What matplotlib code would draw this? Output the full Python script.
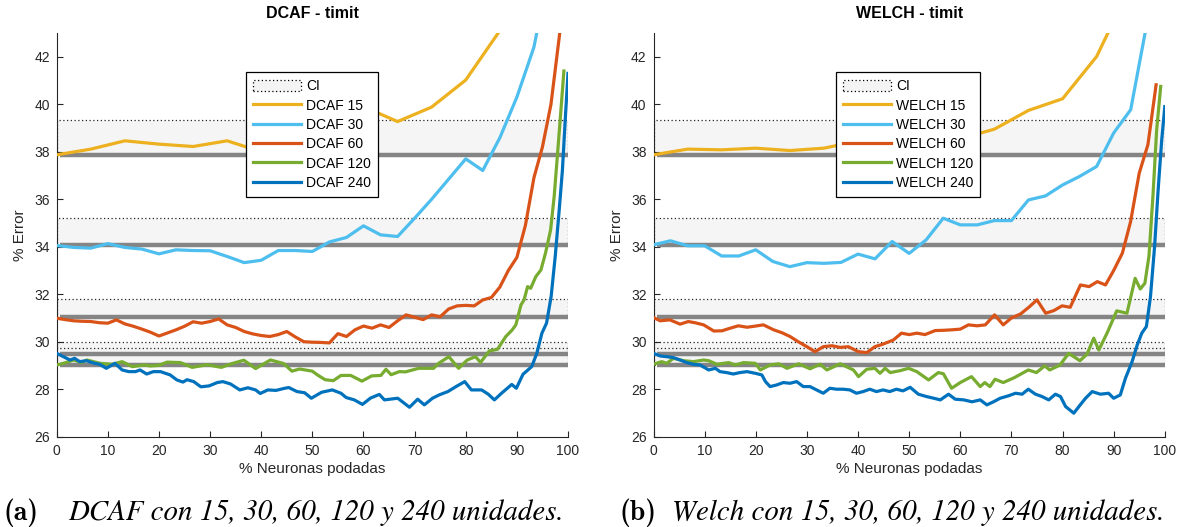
import matplotlib
matplotlib.use('Agg')
import matplotlib.pyplot as plt
from matplotlib.patches import Rectangle, Patch

# ---------------- data ----------------
ref_levels = [37.88, 34.06, 31.02, 29.48, 29.03]
ci_upper = [39.34, 35.22, 31.78, 29.98, 29.75]

x15 = [0, 6.67, 13.33, 20, 26.67, 33.33, 40, 46.67, 53.33, 60, 66.67, 73.33, 80, 86.67, 93.33, 100]
dcaf15 = [37.87, 38.11, 38.46, 38.32, 38.22, 38.46, 38.0, 38.6, 39.3, 39.9, 39.27, 39.88, 41.02, 43.1, 48.0, 60.0]
welch15 = [37.87, 38.11, 38.08, 38.15, 38.05, 38.15, 38.45, 38.6, 38.5, 38.55, 38.95, 39.74, 40.23, 42.01, 45.0, 55.0]

x30 = [0, 3.33, 6.67, 10, 13.33, 16.67, 20, 23.33, 26.67, 30, 33.33, 36.67, 40, 43.33, 46.67,
       50, 53.33, 56.67, 60, 63.33, 66.67, 70, 73.33, 76.67, 80, 83.33, 86.67, 90, 93.33, 96.67, 100]
dcaf30 = [34.05, 33.97, 33.94, 34.13, 33.97, 33.9, 33.7, 33.87, 33.84, 33.83, 33.59, 33.33, 33.43, 33.84, 33.84,
          33.8, 34.2, 34.39, 34.88, 34.5, 34.43, 35.2, 36.0, 36.85, 37.7, 37.21, 38.59, 40.3, 42.4, 46.0, 50.0]
welch30 = [34.08, 34.25, 34.04, 34.04, 33.61, 33.61, 33.87, 33.38, 33.16, 33.33, 33.3, 33.34, 33.69, 33.49, 34.22,
           33.72, 34.29, 35.2, 34.92, 34.92, 35.1, 35.1, 35.97, 36.14, 36.6, 36.96, 37.38, 38.79, 39.77, 43.6, 50.0]

x60_dcaf = [0, 1.67, 3.33, 5, 6.67, 8.33, 10, 11.67, 13.33, 15, 16.67, 18.33, 20, 21.67, 23.33, 25, 26.67, 28.33,
            30, 31.67, 33.33, 35, 36.67, 38.33, 40, 41.67, 43.33, 45, 46.67, 48.33, 50, 51.67, 53.33, 55, 56.67,
            58.33, 60, 61.67, 63.33, 65, 66.67, 68.33, 70, 71.67, 73.33, 75, 76.67, 78.33, 80, 81.67, 83.33, 85,
            86.67, 88.33, 90, 91.67, 93.33, 95, 96.67, 98.33, 100]
dcaf60 = [30.99, 30.93, 30.88, 30.86, 30.85, 30.8, 30.78, 30.92, 30.75, 30.65, 30.53, 30.4, 30.24, 30.37, 30.5,
          30.65, 30.84, 30.78, 30.85, 30.96, 30.71, 30.6, 30.43, 30.33, 30.26, 30.22, 30.3, 30.43, 30.2, 30.0,
          29.98, 29.97, 29.95, 30.34, 30.22, 30.5, 30.66, 30.57, 30.71, 30.6, 30.88, 31.13, 31.03, 30.93, 31.13,
          31.05, 31.38, 31.51, 31.53, 31.51, 31.76, 31.86, 32.3, 33.0, 33.55, 34.9, 36.9, 38.2, 40.0, 42.9, 47.0]

x60_welch = [0, 1.3, 3.2, 5.2, 6.8, 8.1, 9.8, 11.8, 13.4, 15.0, 16.6, 18.3, 20.0, 21.5, 23.5, 25.1, 26.7, 28.3,
             30.0, 31.6, 33.2, 34.9, 36.5, 38.1, 40.1, 41.7, 43.3, 44.9, 46.9, 48.5, 50.0, 51.5, 53.1, 55.1, 56.7,
             58.3, 60.0, 61.6, 63.3, 64.9, 66.7, 68.4, 70.0, 71.8, 73.4, 75.0, 76.7, 78.3, 79.9, 81.5, 83.5, 85.2,
             86.8, 88.4, 90.0, 91.7, 93.3, 95.0, 96.7, 98.3]
welch60 = [31.02, 30.88, 30.92, 30.74, 30.85, 30.8, 30.71, 30.45, 30.46, 30.57, 30.67, 30.61, 30.66, 30.71, 30.5,
           30.38, 30.22, 30.0, 29.79, 29.58, 29.79, 29.83, 29.76, 29.79, 29.58, 29.54, 29.79, 29.9, 30.07, 30.36,
           30.3, 30.36, 30.3, 30.47, 30.48, 30.5, 30.53, 30.71, 30.67, 30.71, 31.13, 30.71, 31.0, 31.17, 31.45,
           31.76, 31.2, 31.31, 31.51, 31.45, 32.39, 32.32, 32.53, 32.39, 33.0, 33.73, 35.05, 37.1, 38.3, 40.82]

x120_dcaf = [0, 1.5, 3.3, 4.9, 5.9, 8.5, 10.8, 12.8, 14.8, 17.1, 18.3, 19.9, 21.6, 24.2, 26.5, 29.4, 32.2, 34.3,
             36.6, 38.9, 41.8, 44.4, 46.0, 47.5, 50.0, 51.0, 52.5, 54.1, 55.6, 57.5, 59.7, 61.6, 63.4, 64.4, 65.4,
             67.0, 68.2, 70.8, 73.7, 74.7, 76.7, 78.6, 80.3, 81.9, 82.9, 84.6, 86.2, 87.8, 89.1, 89.8, 90.8, 91.4,
             92.1, 92.7, 93.7, 94.7, 95.6, 96.6, 97.3, 98.2, 99.2]
dcaf120 = [29.02, 29.1, 29.23, 29.13, 29.23, 29.09, 29.05, 29.16, 28.95, 29.02, 28.98, 29.0, 29.14, 29.12, 28.92,
           29.03, 28.92, 29.08, 29.22, 28.87, 29.23, 29.08, 28.76, 28.85, 28.76, 28.6, 28.4, 28.36, 28.58, 28.58,
           28.34, 28.56, 28.58, 28.84, 28.61, 28.74, 28.73, 28.88, 28.88, 29.09, 29.37, 28.88, 29.23, 29.37, 29.13,
           29.61, 29.68, 30.21, 30.5, 30.71, 31.55, 31.76, 32.32, 32.25, 32.74, 33.02, 33.73, 34.71, 36.13, 38.59,
           41.4]

x120_welch = [0, 1.6, 2.6, 3.9, 5.9, 7.8, 9.8, 10.8, 12.4, 14.7, 16.0, 17.6, 19.9, 20.9, 22.8, 24.5, 26.1, 28.4,
              30.6, 32.6, 33.9, 36.5, 39.1, 40.1, 41.7, 43.3, 44.3, 45.3, 46.3, 48.2, 49.9, 51.5, 53.8, 55.7, 56.7,
              58.3, 60.0, 62.2, 63.9, 64.8, 65.8, 66.8, 68.4, 70.6, 73.3, 74.9, 76.5, 77.5, 79.5, 81.2, 83.4, 84.8,
              86.1, 87.1, 88.7, 90.6, 92.6, 94.2, 95.2, 96.1, 96.9, 97.7, 98.4, 99.2]
welch120 = [29.05, 29.16, 29.09, 29.3, 29.2, 29.16, 29.23, 29.2, 29.05, 29.12, 29.02, 29.12, 29.09, 28.81, 29.02,
            29.07, 28.88, 29.07, 28.86, 29.05, 28.81, 29.07, 28.81, 28.53, 28.84, 28.88, 28.67, 28.88, 28.7, 28.78,
            28.88, 28.74, 28.39, 28.7, 28.65, 28.04, 28.28, 28.53, 28.11, 28.28, 28.11, 28.42, 28.28, 28.49, 28.81,
            28.7, 28.98, 28.81, 29.02, 29.51, 29.2, 29.48, 30.15, 29.65, 30.36, 31.3, 31.2, 32.67, 32.22, 32.46,
            33.6, 36.2, 38.9, 40.75]

x240_dcaf = [0, 1.3, 2.6, 3.5, 4.5, 5.8, 7.4, 8.4, 9.7, 11.4, 12.8, 14.1, 15.4, 16.3, 17.6, 18.9, 20.3, 22.2, 23.5,
             24.7, 25.5, 26.8, 28.2, 29.8, 31.4, 32.5, 34.0, 35.8, 37.4, 38.9, 39.8, 41.3, 42.9, 44.6, 45.4, 47.0,
             48.5, 49.8, 51.8, 53.9, 55.6, 56.6, 58.2, 59.8, 61.4, 63.1, 64.1, 66.7, 69.0, 70.6, 71.9, 73.5, 74.8,
             76.5, 78.1, 79.8, 81.1, 83.1, 84.4, 85.6, 87.0, 89.0, 89.9, 91.2, 92.9, 93.9, 94.9, 95.8, 96.7, 97.5,
             98.3, 98.9, 99.5, 100]
dcaf240 = [29.51, 29.37, 29.23, 29.3, 29.16, 29.2, 29.09, 29.05, 28.88, 29.09, 28.81, 28.74, 28.74, 28.81, 28.64,
           28.74, 28.74, 28.6, 28.39, 28.3, 28.4, 28.32, 28.1, 28.14, 28.28, 28.32, 28.22, 27.97, 28.06, 27.97,
           27.82, 27.97, 27.95, 28.04, 28.07, 27.9, 27.85, 27.62, 27.87, 27.97, 27.83, 27.65, 27.55, 27.36, 27.63,
           27.78, 27.55, 27.62, 27.24, 27.58, 27.34, 27.62, 27.76, 27.9, 28.11, 28.32, 27.97, 27.97, 27.79, 27.55,
           27.83, 28.2, 28.04, 28.63, 28.95, 29.51, 30.36, 30.78, 31.9, 33.59, 35.6, 37.2, 39.5, 41.3]

x240_welch = [0, 1.3, 2.6, 3.9, 5.2, 6.5, 7.8, 9.1, 10.8, 12.1, 13.0, 14.3, 15.6, 16.9, 18.3, 19.9, 21.2, 21.9,
              22.8, 24.1, 25.4, 26.7, 28.0, 29.3, 30.6, 31.9, 33.2, 34.5, 35.8, 37.1, 38.4, 39.7, 41.0, 42.3, 43.6,
              44.9, 46.2, 47.5, 48.8, 50.2, 51.8, 53.4, 54.8, 56.1, 57.7, 59.0, 60.7, 62.3, 63.9, 65.2, 66.5, 67.8,
              69.4, 70.8, 72.1, 73.3, 74.7, 76.0, 77.3, 78.6, 79.6, 80.6, 82.2, 83.2, 84.5, 85.8, 87.4, 89.0, 90.0,
              91.3, 92.3, 93.6, 94.6, 95.5, 96.4, 97.2, 98.0, 98.7, 99.4, 100]
welch240 = [29.51, 29.4, 29.37, 29.33, 29.23, 29.12, 29.05, 29.02, 28.81, 28.88, 28.74, 28.7, 28.64, 28.7, 28.74,
            28.67, 28.6, 28.32, 28.11, 28.18, 28.28, 28.25, 28.32, 28.11, 28.11, 27.97, 27.83, 28.04, 28.0, 28.0,
            27.97, 27.83, 27.9, 28.0, 27.9, 27.97, 27.9, 28.0, 27.93, 28.08, 27.79, 27.69, 27.62, 27.55, 27.79,
            27.58, 27.55, 27.47, 27.55, 27.34, 27.47, 27.62, 27.72, 27.83, 27.79, 28.0, 27.79, 27.69, 27.55, 27.79,
            27.69, 27.27, 26.99, 27.27, 27.62, 27.9, 27.79, 27.83, 27.62, 27.76, 28.46, 29.16, 29.86, 30.36, 30.64,
            31.9, 34.0, 36.4, 38.5, 39.9]

series_labels = ['15', '30', '60', '120', '240']
colors = ['#EDB120', '#4DBEEE', '#D95319', '#77AC30', '#0072BD']
xticks = list(range(0, 101, 10))
yticks = list(range(26, 43, 2))

panels = [
    dict(title='DCAF - timit', prefix='DCAF', caption_tag='(a)',
         caption='DCAF con 15, 30, 60, 120 y 240 unidades.',
         xs=[x15, x30, x60_dcaf, x120_dcaf, x240_dcaf],
         ys=[dcaf15, dcaf30, dcaf60, dcaf120, dcaf240]),
    dict(title='WELCH - timit', prefix='WELCH', caption_tag='(b)',
         caption='Welch con 15, 30, 60, 120 y 240 unidades.',
         xs=[x15, x30, x60_welch, x120_welch, x240_welch],
         ys=[welch15, welch30, welch60, welch120, welch240]),
]

# ---------------- figure ----------------
plt.rcParams['font.family'] = ['Liberation Sans', 'DejaVu Sans']
W, H = 1184, 527
fig = plt.figure(figsize=(W / 100, H / 100), dpi=100)
ax_left = [56.7, 653.5]
ax_w = 511.3
ax_top, ax_bot = 33.0, 436.7
axes = [fig.add_axes([l / W, 1 - ax_bot / H, ax_w / W, (ax_bot - ax_top) / H]) for l in ax_left]
leg_anchor_x = [0.371, 0.357]

txt_col = '#262626'
ci_face = '#f4f4f4'
for ax, p, lx in zip(axes, panels, leg_anchor_x):
    for lvl, up in zip(ref_levels, ci_upper):
        ax.add_patch(Rectangle((0, lvl), 100, up - lvl, facecolor=ci_face, edgecolor='black',
                               linestyle=(0, (1, 2)), linewidth=0.9, alpha=0.85, zorder=1))
    for lvl in ref_levels:
        ax.plot([0.6, 100], [lvl, lvl], color='#858585', lw=3.2, solid_capstyle='butt', zorder=2)
    handles = [Patch(facecolor=ci_face, edgecolor='black', linestyle=(0, (1, 2)), linewidth=0.9)]
    for i, (xv, yv) in enumerate(zip(p['xs'], p['ys'])):
        ln, = ax.plot(xv, yv, color=colors[i], lw=2.3, zorder=3 + i, solid_joinstyle='round')
        handles.append(ln)
    labels = ['CI'] + [f"{p['prefix']} {s}" for s in series_labels]
    leg = ax.legend(handles, labels, loc='upper left', bbox_to_anchor=(lx, 0.903),
                    frameon=True, fancybox=False, framealpha=1, edgecolor='black', fontsize=10,
                    handlelength=3.45, handleheight=0.9, handletextpad=0.35, labelspacing=0.39,
                    borderpad=0.5, borderaxespad=0)
    leg.get_frame().set_linewidth(0.9)
    leg.set_zorder(20)
    ax.set_xlim(0, 100)
    ax.set_ylim(26, 43)
    ax.set_xticks(xticks)
    ax.set_yticks(yticks)
    for s in ['top', 'right']:
        ax.spines[s].set_visible(False)
    for s in ['left', 'bottom']:
        ax.spines[s].set_color(txt_col)
        ax.spines[s].set_linewidth(0.8)
    ax.tick_params(direction='in', length=4, width=0.8, colors=txt_col, labelsize=10, pad=5)
    ax.set_xlabel('% Neuronas podadas', fontsize=11, color=txt_col, labelpad=3)
    ax.set_ylabel('% Error', fontsize=11, color=txt_col, labelpad=5)
    ax.set_title(p['title'], fontsize=11.5, fontweight='bold', color='black', pad=11)

# ---------------- captions ----------------
cap_y = 1 - 520 / H
tag_x = [4, 620]
it_x = [68, 672]
tags, its = [], []
for p, tx, ix in zip(panels, tag_x, it_x):
    tags.append(fig.text(tx / W, cap_y, p['caption_tag'], family='cmb10', fontsize=20,
                         va='baseline', ha='left'))
    its.append(fig.text(ix / W, cap_y, p['caption'], family='STIXGeneral', style='italic',
                        fontsize=15, va='baseline', ha='left'))

fig.canvas.draw()
r = fig.canvas.get_renderer()
s_it = 15 * 497 / its[0].get_window_extent(r).width
for t in its:
    t.set_fontsize(s_it)

fig.savefig('out.png', dpi=100)
